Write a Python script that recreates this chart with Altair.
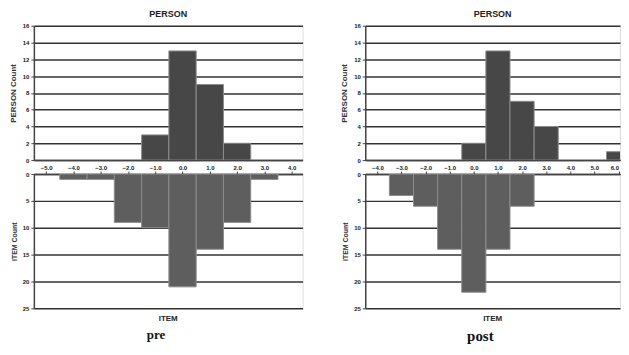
import altair as alt
import pandas as pd

# ---- data ----
pre_person_bins = [-1.0, 0.0, 1.0, 2.0]
pre_person_counts = [3, 13, 9, 2]
pre_item_bins = [-4.0, -3.0, -2.0, -1.0, 0.0, 1.0, 2.0, 3.0]
pre_item_counts = [1, 1, 9, 10, 21, 14, 9, 1]
pre_ticks = [-5.0, -4.0, -3.0, -2.0, -1.0, 0.0, 1.0, 2.0, 3.0, 4.0]

post_person_bins = [0.0, 1.0, 2.0, 3.0, 6.0]
post_person_counts = [2, 13, 7, 4, 1]
post_item_bins = [-3.0, -2.0, -1.0, 0.0, 1.0, 2.0]
post_item_counts = [4, 6, 14, 22, 14, 6]
post_ticks = [-4.0, -3.0, -2.0, -1.0, 0.0, 1.0, 2.0, 3.0, 4.0, 5.0, 6.0]

person_y_ticks = [0, 2, 4, 6, 8, 10, 12, 14, 16]
item_y_ticks = [0, 5, 10, 15, 20, 25]

FONT = "Liberation Sans"
H = 135


def panel(pb, pc, ib, ic, ticks, domain, width, label, label_size):
    dp = pd.DataFrame({"center": pb, "count": pc})
    di = pd.DataFrame({"center": ib, "count": ic})
    xscale = alt.Scale(domain=domain, nice=False, zero=False)

    top = (
        alt.Chart(dp, title=alt.TitleParams("PERSON", fontSize=9, font=FONT,
                                             fontWeight="bold", color="#222", offset=4))
        .transform_calculate(x0="datum.center - 0.5", x1="datum.center + 0.5")
        .mark_bar(color="#474747", stroke="#8c8c8c", strokeWidth=1, clip=True)
        .encode(
            x=alt.X("x0:Q", scale=xscale,
                    axis=alt.Axis(values=ticks, format=".1f", title=None, grid=False,
                                  labelFontSize=6, labelFont=FONT, labelFontWeight="bold",
                                  labelColor="#222", ticks=False, labelPadding=4,
                                  labelFlush=4,
                                  domainColor="#444", domainWidth=1.5)),
            x2="x1:Q",
            y=alt.Y("count:Q", scale=alt.Scale(domain=[0, 16], nice=False),
                    axis=alt.Axis(values=person_y_ticks, title="PERSON Count",
                                  titleFontSize=8, titleFont=FONT, titleFontWeight="bold",
                                  titleColor="#333", titlePadding=5,
                                  labelFontSize=6, labelFont=FONT, labelFontWeight="bold",
                                  labelColor="#222", tickSize=3, tickColor="#444",
                                  domainColor="#444", domainWidth=1.5,
                                  gridColor="#333", gridWidth=1.5)),
            y2=alt.datum(0),
        )
        .properties(width=width, height=H)
    )

    bottom = (
        alt.Chart(di, title=alt.TitleParams("ITEM", orient="bottom", fontSize=8, font=FONT,
                                             fontWeight="bold", color="#222", offset=4))
        .transform_calculate(x0="datum.center - 0.5", x1="datum.center + 0.5")
        .mark_bar(color="#5e5e5e", stroke="#8c8c8c", strokeWidth=1, clip=True)
        .encode(
            x=alt.X("x0:Q", scale=xscale,
                    axis=alt.Axis(values=ticks, orient="top", labels=False, title=None,
                                  grid=False, tickSize=3, tickColor="#444",
                                  domainColor="#444", domainWidth=1.5)),
            x2="x1:Q",
            y=alt.Y("count:Q", scale=alt.Scale(domain=[0, 25], nice=False, reverse=True),
                    axis=alt.Axis(values=item_y_ticks, title="ITEM Count",
                                  titleFontSize=7, titleFont=FONT, titleFontWeight="bold",
                                  titleColor="#333", titlePadding=5,
                                  labelFontSize=6, labelFont=FONT, labelFontWeight="bold",
                                  labelColor="#222", tickSize=3, tickColor="#444",
                                  domainColor="#444", domainWidth=1.5,
                                  gridColor="#333", gridWidth=1.5)),
            y2=alt.datum(0),
        )
        .properties(width=width, height=H)
    )

    return alt.vconcat(
        top, bottom, spacing=14, bounds="flush",
        title=alt.TitleParams(label, orient="bottom", anchor="middle", fontSize=label_size,
                              font="Liberation Serif", fontWeight="bold",
                              color="#111", offset=5),
    )


left = panel(pre_person_bins, pre_person_counts, pre_item_bins, pre_item_counts,
             pre_ticks, [-5.45, 4.4], 270, "pre", 13)
right = panel(post_person_bins, post_person_counts, post_item_bins, post_item_counts,
              post_ticks, [-4.5, 6.06], 256, "post", 15)

chart = (
    alt.hconcat(left, right, spacing=36)
    .properties(padding={"left": 0, "top": 0, "right": 0, "bottom": 0})
    .configure_view(stroke="#444", strokeWidth=1.5)
    .configure(background="white")
)

chart.save("out.html", embed_options={"renderer": "svg", "actions": False})
